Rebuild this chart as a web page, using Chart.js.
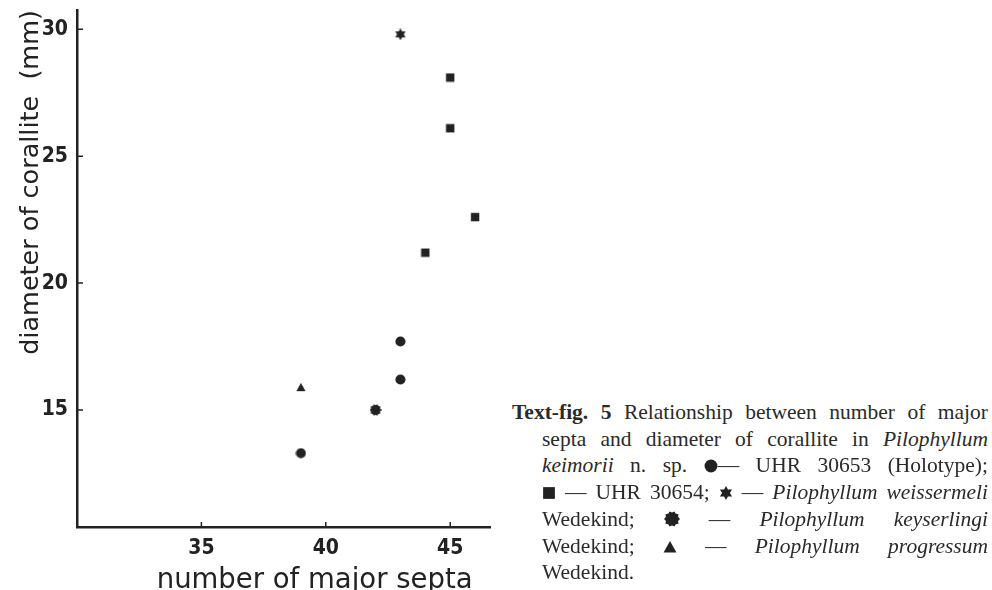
<!DOCTYPE html>
<html>
<head>
<meta charset="utf-8">
<script src="https://cdn.jsdelivr.net/npm/chart.js@4.4.1/dist/chart.umd.min.js"></script>
<style>
  html, body { margin: 0; padding: 0; background: #fff; }
  #page { position: relative; width: 992px; height: 590px; overflow: hidden; }
  #plot { position: absolute; left: 0; top: 0; width: 500px; height: 590px; }
  #caption {
    position: absolute; left: 512px; top: 399px; width: 476px;
    font-family: "Liberation Serif", "Times New Roman", serif;
    font-size: 21.5px; line-height: 26.7px; color: #2a2a2a;
  }
  #caption .ln { text-align: justify; text-align-last: justify; padding-left: 30px; }
  #caption .ln.first { padding-left: 0; }
  #caption .ln.last { text-align-last: left; }
  #caption canvas { vertical-align: -1px; }
</style>
</head>
<body>
<div id="page">
  <div id="plot"><canvas id="chart"></canvas></div>
  <div id="caption">
    <div class="ln first"><b>Text-fig. 5</b> Relationship between number of major</div>
    <div class="ln">septa and diameter of corallite in <i>Pilophyllum</i></div>
    <div class="ln"><i>keimorii</i> n. sp. <span data-m="circle"></span>— UHR 30653 (Holotype);</div>
    <div class="ln"><span data-m="rect"></span> — UHR 30654; <span data-m="star6"></span> — <i>Pilophyllum weissermeli</i></div>
    <div class="ln">Wedekind; <span data-m="gear"></span> — <i>Pilophyllum</i> <i>keyserlingi</i></div>
    <div class="ln">Wedekind; <span data-m="triangle"></span> — <i>Pilophyllum</i> <i>progressum</i></div>
    <div class="ln last">Wedekind.</div>
  </div>
</div>
<script>
// ticks
const xTicks = [35, 40, 45];
const yTicks = [15, 20, 25, 30];

// P. keimorii, UHR 30653 (holotype) - circles
const holoSepta = [39, 43, 43];
const holoDiam = [13.3, 16.2, 17.7];
// UHR 30654 - squares
const uhrSepta = [44, 45, 45, 46];
const uhrDiam = [21.2, 26.1, 28.1, 22.6];
// P. weissermeli - star
const weisSepta = [43];
const weisDiam = [29.8];
// P. keyserlingi
const keysSepta = [42];
const keysDiam = [15.0];
// P. progressum - triangle
const progSepta = [39];
const progDiam = [15.9];

const ink = "#222";
const condensed = "'Liberation Sans Narrow', 'DejaVu Sans Condensed', sans-serif";

function markerCanvas(kind, size) {
	const c = document.createElement("canvas");
	c.width = size;
	c.height = size;
	const g = c.getContext("2d");
	const m = size / 2;
	g.fillStyle = ink;
	g.beginPath();
	if (kind === "circle") {
		g.arc(m, m, size * 0.46, 0, Math.PI * 2);
	} else if (kind === "rect") {
		g.rect(size * 0.08, size * 0.08, size * 0.84, size * 0.84);
	} else if (kind === "triangle") {
		g.moveTo(m, size * 0.08);
		g.lineTo(size * 0.96, size * 0.9);
		g.lineTo(size * 0.04, size * 0.9);
	} else if (kind === "star6") {
		for (let i = 0; i < 12; i++) {
			const r = i % 2 ? size * 0.28 : size * 0.5;
			const a = -Math.PI / 2 + (i * Math.PI) / 6;
			g.lineTo(m + r * Math.cos(a), m + r * Math.sin(a));
		}
	} else if (kind === "gear") {
		for (let i = 0; i < 20; i++) {
			const r = i % 2 ? size * 0.4 : size * 0.5;
			const a = (i * Math.PI) / 10;
			g.lineTo(m + r * Math.cos(a), m + r * Math.sin(a));
		}
	}
	g.closePath();
	g.fill();
	return c;
}

document.querySelectorAll("#caption span[data-m]").forEach((s) => {
	const k = s.getAttribute("data-m");
	s.appendChild(markerCanvas(k, k === "gear" ? 16 : 14));
});

function pts(xs, ys) {
	return xs.map((v, i) => ({ x: v, y: ys[i] }));
}

// short tick marks pointing into the plot
const innerTicks = {
	id: "innerTicks",
	afterDraw(chart) {
		const { ctx, scales: { x, y } } = chart;
		ctx.save();
		ctx.strokeStyle = ink;
		ctx.lineWidth = 1.5;
		ctx.beginPath();
		xTicks.forEach((v) => {
			const px = x.getPixelForValue(v);
			ctx.moveTo(px, x.top);
			ctx.lineTo(px, x.top - 5);
		});
		yTicks.forEach((v) => {
			const py = y.getPixelForValue(v);
			ctx.moveTo(y.right, py);
			ctx.lineTo(y.right + 6, py);
		});
		ctx.stroke();
		ctx.restore();
	}
};

function series(label, xs, ys, style, size) {
	return {
		label: label,
		data: pts(xs, ys),
		pointStyle: markerCanvas(style, size),
		pointRadius: size / 2,
		backgroundColor: ink,
		borderColor: ink
	};
}

var ctx = document.getElementById("chart").getContext("2d");
var config = {
	type: "scatter",
	data: {
		datasets: [
			series("UHR 30653 (Holotype)", holoSepta, holoDiam, "circle", 11),
			series("UHR 30654", uhrSepta, uhrDiam, "rect", 10),
			series("Pilophyllum weissermeli", weisSepta, weisDiam, "star6", 12),
			series("Pilophyllum keyserlingi", keysSepta, keysDiam, "gear", 12),
			series("Pilophyllum progressum", progSepta, progDiam, "triangle", 10)
		]
	},
	options: {
		responsive: true,
		maintainAspectRatio: false,
		animation: false,
		layout: { padding: { top: 10, right: 10, left: 0, bottom: 0 } },
		plugins: { legend: { display: false }, tooltip: { enabled: false } },
		scales: {
			x: {
				type: "linear",
				min: 30,
				max: 46.6,
				afterBuildTicks: (s) => { s.ticks = xTicks.map((v) => ({ value: v })); },
				afterFit: (s) => { s.height = 63; s.paddingLeft = 0; s.paddingRight = 0; },
				grid: { display: false, drawTicks: false },
				border: { display: true, color: ink, width: 2.5 },
				ticks: { color: ink, padding: 9, font: { family: condensed, size: 21, weight: "bold" } },
				title: {
					display: true,
					text: "number of major septa  ",
					align: "end",
					color: ink,
					padding: { top: 0, bottom: -7 },
					font: { family: "'DejaVu Sans', sans-serif", size: 27.5 }
				}
			},
			y: {
				type: "linear",
				min: 10.39,
				max: 30.76,
				afterBuildTicks: (s) => { s.ticks = yTicks.map((v) => ({ value: v })); },
				afterFit: (s) => { s.width = 77; s.paddingTop = 0; s.paddingBottom = 0; },
				grid: { display: false, drawTicks: false },
				border: { display: true, color: ink, width: 2.5 },
				ticks: { color: ink, padding: 9, font: { family: condensed, size: 21, weight: "bold" } },
				title: {
					display: true,
					text: "diameter of corallite  (mm)",
					align: "end",
					color: ink,
					padding: { top: 16, bottom: 0 },
					font: { family: "'DejaVu Sans', sans-serif", size: 25.5 }
				}
			}
		}
	},
	plugins: [innerTicks]
};

var myChart = new Chart(ctx, config);
</script>
</body>
</html>
